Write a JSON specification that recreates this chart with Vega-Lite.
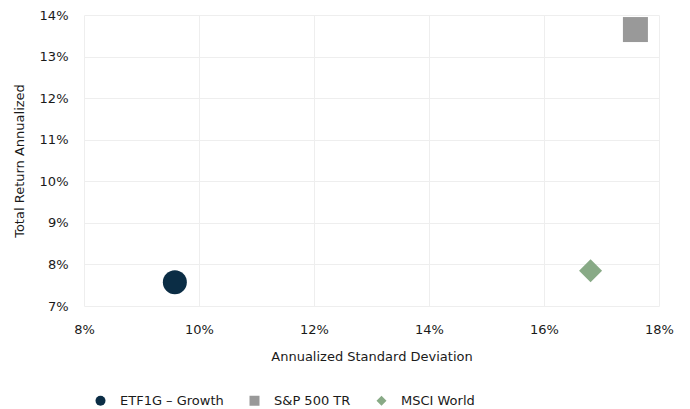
{
  "$schema": "https://vega.github.io/schema/vega-lite/v6.json",
  "width": 575,
  "height": 291,
  "autosize": {"type": "none"},
  "padding": {"left": 84, "top": 15, "right": 31, "bottom": 103},
  "background": "white",
  "config": {
    "font": "DejaVu Sans",
    "view": {"stroke": null},
    "axis": {
      "labelFont": "DejaVu Sans",
      "titleFont": "DejaVu Sans",
      "labelFontSize": 13,
      "titleFontSize": 13,
      "titleFontWeight": "normal",
      "labelColor": "#1a1a1a",
      "titleColor": "#1a1a1a",
      "gridColor": "#eeeeee",
      "gridWidth": 1,
      "domain": false,
      "ticks": false,
      "labelFlush": false
    },
    "legend": {
      "labelFont": "DejaVu Sans",
      "labelFontSize": 13,
      "labelColor": "#1a1a1a"
    }
  },
  "data": {
    "values": [
      {"series": "ETF1G – Growth", "sd": 0.0958, "ret": 0.0757},
      {"series": "S&P 500 TR", "sd": 0.1759, "ret": 0.1365},
      {"series": "MSCI World", "sd": 0.1681, "ret": 0.0785}
    ]
  },
  "encoding": {
    "x": {
      "field": "sd",
      "type": "quantitative",
      "title": "Annualized Standard Deviation",
      "scale": {"domain": [0.08, 0.18], "nice": false, "zero": false},
      "axis": {"format": ".0%", "values": [0.08, 0.10, 0.12, 0.14, 0.16, 0.18], "labelPadding": 17, "titlePadding": 14}
    },
    "y": {
      "field": "ret",
      "type": "quantitative",
      "title": "Total Return Annualized",
      "scale": {"domain": [0.07, 0.14], "nice": false, "zero": false},
      "axis": {"format": ".0%", "values": [0.07, 0.08, 0.09, 0.10, 0.11, 0.12, 0.13, 0.14], "labelPadding": 16, "titlePadding": 13}
    },
    "color": {
      "field": "series",
      "type": "nominal",
      "scale": {"domain": ["ETF1G – Growth", "S&P 500 TR", "MSCI World"], "range": ["#0b2d45", "#999999", "#88aa86"]},
      "legend": {
        "title": null,
        "orient": "none",
        "direction": "horizontal",
        "legendX": 10,
        "legendY": 379,
        "symbolSize": 100,
        "labelOffset": 13,
        "columnPadding": 22,
        "symbolOpacity": 1
      }
    },
    "shape": {
      "field": "series",
      "type": "nominal",
      "scale": {"domain": ["ETF1G – Growth", "S&P 500 TR", "MSCI World"], "range": ["circle", "square", "diamond"]},
      "legend": {
        "title": null,
        "orient": "none",
        "direction": "horizontal",
        "legendX": 10,
        "legendY": 379,
        "symbolSize": 100,
        "labelOffset": 13,
        "columnPadding": 22,
        "symbolOpacity": 1
      }
    }
  },
  "layer": [
    {
      "transform": [{"filter": "datum.series === 'ETF1G – Growth'"}],
      "mark": {"type": "point", "filled": true, "opacity": 1, "size": 576}
    },
    {
      "transform": [{"filter": "datum.series === 'S&P 500 TR'"}],
      "mark": {"type": "point", "filled": true, "opacity": 1, "size": 625}
    },
    {
      "transform": [{"filter": "datum.series === 'MSCI World'"}],
      "mark": {"type": "point", "filled": true, "opacity": 1, "size": 529}
    }
  ]
}
